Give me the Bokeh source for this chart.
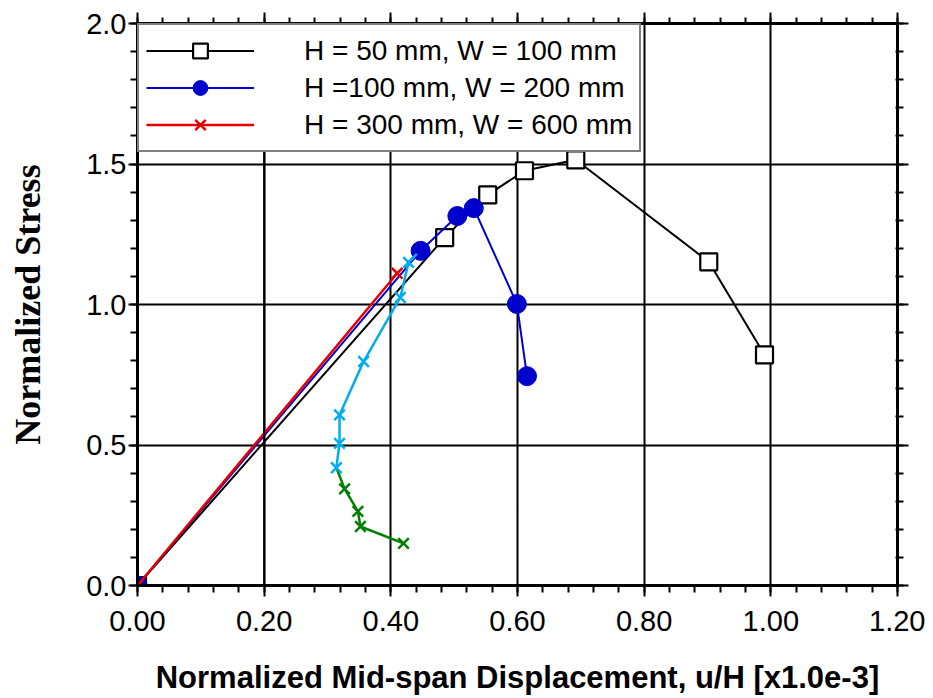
from bokeh.plotting import figure
from bokeh.models import LinearAxis, FixedTicker, Legend, LegendItem, Span, Range1d
from bokeh.embed import file_html
from bokeh.resources import INLINE

# ---- data ----
black_x = [0.0, 0.485, 0.553, 0.611, 0.692, 0.902, 0.990]
black_y = [0.0, 1.238, 1.390, 1.476, 1.515, 1.152, 0.821]

blue_x = [0.0, 0.447, 0.505, 0.531, 0.599, 0.615]
blue_y = [0.0, 1.191, 1.315, 1.343, 1.002, 0.745]

red_x = [0.0, 0.410]
red_y = [0.0, 1.111]

cyan_x = [0.441, 0.428, 0.415, 0.357, 0.319, 0.319, 0.314]
cyan_y = [1.180, 1.150, 1.025, 0.797, 0.607, 0.506, 0.419]

green_x = [0.314, 0.327, 0.348, 0.352, 0.420]
green_y = [0.419, 0.344, 0.264, 0.210, 0.150]

labels = ["H = 50 mm, W = 100 mm", "H =100 mm, W = 200 mm", "H = 300 mm, W = 600 mm"]

x_ticks = [0.0, 0.2, 0.4, 0.6, 0.8, 1.0, 1.2]
x_tick_labels = ["0.00", "0.20", "0.40", "0.60", "0.80", "1.00", "1.20"]
y_ticks = [0.0, 0.5, 1.0, 1.5, 2.0]
y_tick_labels = ["0.0", "0.5", "1.0", "1.5", "2.0"]
x_minor = [round(i * 0.04, 2) for i in range(31)]
y_minor = [round(i * 0.1, 1) for i in range(21)]

x_title = "Normalized Mid-span Displacement, u/H [x1.0e-3]"
y_title = "Normalized Stress"

BLACK = "#000000"
BLUE = "#0000CC"
RED = "#E60000"
CYAN = "#00AEEF"
GREEN = "#008000"

p = figure(width=925, height=698, x_range=Range1d(0, 1.2), y_range=Range1d(0, 2.0),
           output_backend="svg", toolbar_location=None,
           min_border_left=137, min_border_right=28, min_border_top=23, min_border_bottom=113)
p.outline_line_color = None
p.background_fill_color = "white"

xt = FixedTicker(ticks=x_ticks, minor_ticks=x_minor)
yt = FixedTicker(ticks=y_ticks, minor_ticks=y_minor)

xa = p.xaxis[0]
ya = p.yaxis[0]
xa.ticker = xt
ya.ticker = yt
xa.major_label_overrides = dict(zip(x_ticks, x_tick_labels))
ya.major_label_overrides = dict(zip(y_ticks, y_tick_labels))

top = LinearAxis(ticker=xt)
right = LinearAxis(ticker=yt)
top.major_label_overrides = {t: "" for t in x_ticks}
right.major_label_overrides = {t: "" for t in y_ticks}
p.add_layout(top, "above")
p.add_layout(right, "right")

for ax in (xa, ya, top, right):
    ax.axis_line_width = 3
    ax.axis_line_color = BLACK
    ax.major_tick_line_width = 2
    ax.minor_tick_line_width = 2
    ax.major_tick_line_color = BLACK
    ax.minor_tick_line_color = BLACK
    ax.major_tick_in = 0
    ax.minor_tick_in = 0

xa.major_tick_out = 11
xa.minor_tick_out = 7
xa.major_label_text_font = "Liberation Sans"
xa.major_label_text_font_size = "29px"
xa.major_label_text_color = BLACK
xa.major_label_standoff = 14
xa.axis_label = x_title
xa.axis_label_text_font = "Liberation Sans"
xa.axis_label_text_font_style = "bold"
xa.axis_label_text_font_size = "31px"
xa.axis_label_text_color = BLACK
xa.axis_label_standoff = 26

ya.major_tick_out = 9
ya.minor_tick_out = 7
ya.major_label_text_font = "Liberation Sans"
ya.major_label_text_font_size = "29px"
ya.major_label_text_color = BLACK
ya.major_label_standoff = 2
ya.axis_label = y_title
ya.axis_label_text_font = "Liberation Serif"
ya.axis_label_text_font_style = "bold"
ya.axis_label_text_font_size = "36px"
ya.axis_label_text_color = BLACK
ya.axis_label_standoff = 35

top.major_tick_out = 11
top.minor_tick_out = 6
top.major_label_standoff = 0
top.major_label_text_font_size = "10px"

right.major_tick_out = 11
right.minor_tick_out = 6
right.minor_tick_in = 2
right.major_label_standoff = 0
right.major_label_text_font_size = "10px"

for g in (p.xgrid[0], p.ygrid[0]):
    g.grid_line_color = BLACK
    g.grid_line_width = 2
p.xgrid[0].ticker = xt
p.ygrid[0].ticker = yt

# ---- series ----
bl = p.line(black_x, black_y, line_color=BLACK, line_width=2)
bm = p.scatter(black_x, black_y, marker="square", size=17, fill_color="white",
               line_color=BLACK, line_width=2.2)

ul = p.line(blue_x, blue_y, line_color=BLUE, line_width=2)
um = p.scatter(blue_x, blue_y, marker="circle", size=19, fill_color=BLUE, line_color=BLUE)

rl = p.line(red_x, red_y, line_color=RED, line_width=2.5)
rm = p.scatter(red_x, red_y, marker="x", size=15, line_color=RED, line_width=2.5)

p.line(green_x, green_y, line_color=GREEN, line_width=2.5)
p.scatter(green_x[1:], green_y[1:], marker="x", size=15, line_color=GREEN, line_width=2.5)

p.line(cyan_x, cyan_y, line_color=CYAN, line_width=2.5)
p.scatter(cyan_x[1:], cyan_y[1:], marker="x", size=15, line_color=CYAN, line_width=2.5)

legend = Legend(items=[LegendItem(label=labels[0], renderers=[bl, bm]),
                       LegendItem(label=labels[1], renderers=[ul, um]),
                       LegendItem(label=labels[2], renderers=[rl, rm])],
                location="top_left")
legend.border_line_color = BLACK
legend.border_line_width = 2.5
legend.background_fill_color = "white"
legend.background_fill_alpha = 1.0
legend.label_text_font = "Liberation Sans"
legend.label_text_font_size = "28px"
legend.label_text_color = BLACK
legend.glyph_width = 108
legend.glyph_height = 37
legend.label_height = 37
legend.spacing = 0
legend.padding = 7
legend.margin = 0
legend.label_standoff = 50
p.add_layout(legend, "center")

p.add_layout(Span(location=0.2, dimension="height", line_color=BLACK, line_width=2))

open("out.html", "w").write(file_html(p, INLINE))
